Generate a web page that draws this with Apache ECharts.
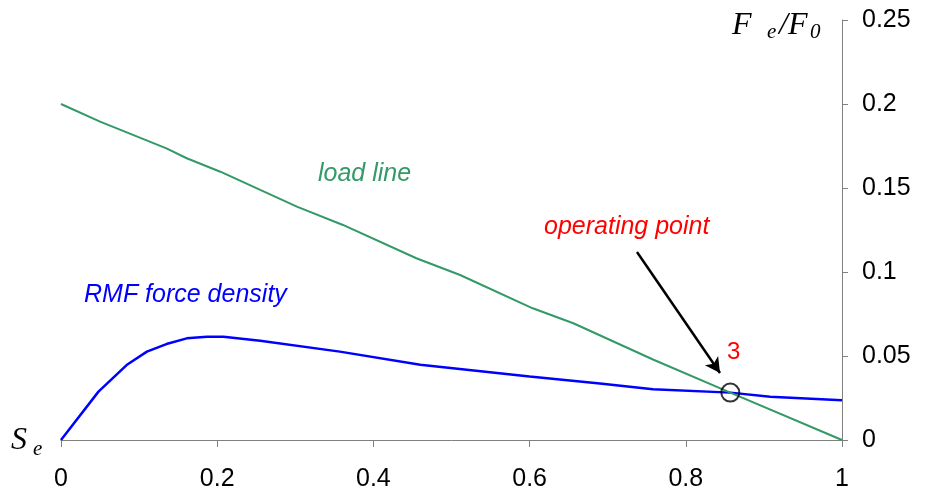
<!DOCTYPE html>
<html>
<head>
<meta charset="utf-8">
<script src="https://cdn.jsdelivr.net/npm/echarts@6/dist/echarts.min.js"></script>
<style>
  html, body { margin: 0; padding: 0; background: #fff; }
  #chart { width: 926px; height: 494px; }
</style>
</head>
<body>
<div id="chart"></div>
<script>
// Load line (normalised force vs. slip)
const loadX = [0, 0.05, 0.135, 0.161, 0.204, 0.302, 0.361, 0.455, 0.511, 0.604, 0.656, 0.758, 0.857, 1.0];
const loadY = [0.2, 0.1895, 0.1736, 0.1677, 0.1597, 0.1389, 0.128, 0.1082, 0.0982, 0.0784, 0.0695, 0.0479, 0.0282, 0.0];

// RMF force density curve
const rmfX = [0, 0.048, 0.084, 0.110, 0.135, 0.161, 0.187, 0.208, 0.255, 0.357, 0.46, 0.6, 0.69, 0.758, 0.857, 0.908, 1.0];
const rmfY = [0, 0.0288, 0.0446, 0.0526, 0.0571, 0.0605, 0.0615, 0.0615, 0.0591, 0.0526, 0.0448, 0.0378, 0.0337, 0.0302, 0.0282, 0.0258, 0.0236];

// Operating point (intersection, marked "3")
const operatingPoint = [0.857, 0.0282];

// Arrow from the "operating point" caption towards the marker
const arrowFrom = [0.7375, 0.1119];
const arrowTo = [0.8438, 0.0399];

// Tick labels
const xTickLabels = ['0', '0.2', '0.4', '0.6', '0.8', '1'];
const yTickLabels = ['0', '0.05', '0.1', '0.15', '0.2', '0.25'];

const GREEN = '#339966';
const BLUE = '#0000FF';
const RED = '#FF0000';
const AXIS = '#808080';
const SANS = '"Liberation Sans", Arial, sans-serif';
const SERIF = '"Liberation Serif", "Times New Roman", serif';

const zip = (xs, ys) => xs.map((x, i) => [x, ys[i]]);

const chart = echarts.init(document.getElementById('chart'), null, { renderer: 'canvas' });

chart.setOption({
  animation: false,
  backgroundColor: '#fff',
  grid: { left: 61, right: 84, top: 20, bottom: 54, containLabel: false },
  xAxis: {
    type: 'value',
    min: 0, max: 1, interval: 0.2,
    axisLine: { show: true, onZero: false, lineStyle: { color: AXIS, width: 1 } },
    axisTick: { show: true, length: 7, lineStyle: { color: AXIS } },
    splitLine: { show: false },
    axisLabel: {
      color: '#000', fontFamily: SANS, fontSize: 25, margin: 27,
      formatter: v => xTickLabels[Math.round(v / 0.2)]
    }
  },
  yAxis: {
    type: 'value',
    position: 'right',
    min: 0, max: 0.25, interval: 0.05,
    axisLine: { show: true, onZero: false, lineStyle: { color: AXIS, width: 1 } },
    axisTick: { show: true, length: 6, lineStyle: { color: AXIS } },
    splitLine: { show: false },
    axisLabel: {
      color: '#000', fontFamily: SANS, fontSize: 25, margin: 20,
      formatter: v => yTickLabels[Math.round(v / 0.05)]
    }
  },
  series: [
    {
      name: 'load line',
      type: 'line',
      data: zip(loadX, loadY),
      showSymbol: false,
      lineStyle: { color: GREEN, width: 2 },
      z: 3
    },
    {
      name: 'RMF force density',
      type: 'line',
      data: zip(rmfX, rmfY),
      showSymbol: false,
      lineStyle: { color: BLUE, width: 2.5 },
      z: 2,
      markLine: {
        silent: true,
        symbol: ['none', 'arrow'],
        symbolSize: [12, 15],
        label: { show: false },
        lineStyle: { color: '#000', width: 2.5, type: 'solid' },
        data: [[{ coord: arrowFrom }, { coord: arrowTo }]]
      }
    },
    {
      name: 'operating point',
      type: 'scatter',
      data: [operatingPoint],
      symbol: 'circle',
      symbolSize: 18,
      itemStyle: { color: 'rgba(0,0,0,0)', borderColor: '#000', borderWidth: 2 },
      z: 5
    }
  ],
  graphic: [
    { type: 'text', left: 318, top: 162, style: { text: 'load line', fill: GREEN, font: 'italic 25px ' + SANS } },
    { type: 'text', left: 84, top: 283, style: { text: 'RMF force density', fill: BLUE, font: 'italic 25px ' + SANS } },
    { type: 'text', left: 544, top: 215, style: { text: 'operating point', fill: RED, font: 'italic 25px ' + SANS } },
    { type: 'text', left: 727, top: 340, style: { text: '3', fill: RED, font: '24px ' + SANS } },
    // F_e / F_0
    { type: 'text', left: 732, top: 10, style: { text: 'F', fill: '#000', font: 'italic 32px ' + SERIF } },
    { type: 'text', left: 767, top: 22, style: { text: 'e', fill: '#000', font: 'italic 21px ' + SERIF } },
    { type: 'text', left: 779, top: 10, style: { text: '/F', fill: '#000', font: 'italic 32px ' + SERIF } },
    { type: 'text', left: 810, top: 22, style: { text: '0', fill: '#000', font: 'italic 21px ' + SERIF } },
    // S_e
    { type: 'text', left: 11, top: 425, style: { text: 'S', fill: '#000', font: 'italic 32px ' + SERIF } },
    { type: 'text', left: 33, top: 439, style: { text: 'e', fill: '#000', font: 'italic 21px ' + SERIF } }
  ]
});
</script>
</body>
</html>
